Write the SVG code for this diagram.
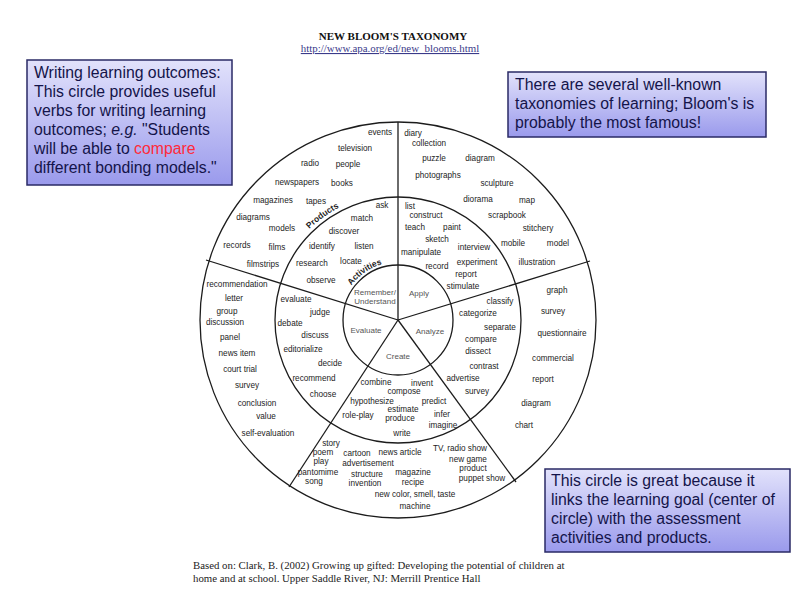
<svg xmlns="http://www.w3.org/2000/svg" width="800" height="600" viewBox="0 0 800 600">
<defs>
<linearGradient id="boxg" x1="0" y1="0" x2="0" y2="1">
<stop offset="0" stop-color="#e2e2fb"/>
<stop offset="1" stop-color="#9a9aec"/>
</linearGradient>
<path id="prodArc" d="M 271,320 A 127 127 0 0 1 525,320"/>
<path id="actArc" d="M 340,320 A 58 58 0 0 1 456,320"/>
</defs>
<style>
.w{font-family:"Liberation Sans",Arial,sans-serif;font-size:8.2px;fill:#1c1c1c;text-anchor:middle}
.c{font-family:"Liberation Sans",Arial,sans-serif;font-size:8px;fill:#555;text-anchor:middle}
.lbl{font-family:"Liberation Sans",Arial,sans-serif;font-size:8.5px;font-weight:bold;fill:#1c1c1c;text-anchor:middle}
.ln{stroke:#1c1c1c;stroke-width:1.3;fill:none}
.box{fill:url(#boxg);stroke:#2a2a66;stroke-width:1.5}
.bt{font-family:"Liberation Sans",Arial,sans-serif;font-size:15.8px;fill:#14144a}
.ser{font-family:"Liberation Serif","Times New Roman",serif}
</style>
<rect width="800" height="600" fill="#ffffff"/>

<g id="title">
<text class="ser" x="393" y="40" font-size="11" font-weight="bold" text-anchor="middle" fill="#111">NEW BLOOM'S TAXONOMY</text>
<text class="ser" x="390" y="52" font-size="10.9" text-anchor="middle" fill="#3a3a8a" text-decoration="underline">http://www.apa.org/ed/new_blooms.html</text>
</g>

<g id="connectors">
<circle class="ln" cx="398" cy="320" r="198"/>
<circle class="ln" cx="398" cy="320" r="123"/>
<circle class="ln" cx="398" cy="320" r="55"/>
<line class="ln" x1="398" y1="320" x2="398" y2="122"/>
<line class="ln" x1="398" y1="320" x2="206" y2="260"/>
<line class="ln" x1="398" y1="320" x2="590" y2="261"/>
<line class="ln" x1="398" y1="320" x2="516" y2="482"/>
<line class="ln" x1="398" y1="320" x2="289" y2="487"/>
</g>

<g id="ring-labels">
<text class="lbl"><textPath href="#prodArc" startOffset="119.7">Products</textPath></text>
<text class="lbl"><textPath href="#actArc" startOffset="55.7">Activities</textPath></text>
</g>

<g id="core">
<text class="c" x="375" y="295">Remember/</text>
<text class="c" x="375" y="304">Understand</text>
<text class="c" x="419" y="296">Apply</text>
<text class="c" x="366" y="333">Evaluate</text>
<text class="c" x="430" y="334">Analyze</text>
<text class="c" x="398" y="359">Create</text>
</g>

<g id="remember-sector">
<text class="w" x="380" y="135">events</text>
<text class="w" x="355" y="151">television</text>
<text class="w" x="310" y="166">radio</text>
<text class="w" x="348" y="167">people</text>
<text class="w" x="297" y="185">newspapers</text>
<text class="w" x="342" y="186">books</text>
<text class="w" x="273" y="203">magazines</text>
<text class="w" x="316" y="204">tapes</text>
<text class="w" x="253" y="220">diagrams</text>
<text class="w" x="282" y="231">models</text>
<text class="w" x="237" y="248">records</text>
<text class="w" x="277" y="250">films</text>
<text class="w" x="263" y="267">filmstrips</text>
<text class="w" x="382" y="208">ask</text>
<text class="w" x="362" y="221">match</text>
<text class="w" x="344" y="234">discover</text>
<text class="w" x="322" y="249">identify</text>
<text class="w" x="364" y="249">listen</text>
<text class="w" x="312" y="266">research</text>
<text class="w" x="351" y="264">locate</text>
<text class="w" x="321" y="283">observe</text>
</g>

<g id="apply-sector">
<text class="w" x="413" y="136">diary</text>
<text class="w" x="429" y="146">collection</text>
<text class="w" x="434" y="161">puzzle</text>
<text class="w" x="480" y="161">diagram</text>
<text class="w" x="438" y="178">photographs</text>
<text class="w" x="497" y="186">sculpture</text>
<text class="w" x="478" y="202">diorama</text>
<text class="w" x="527" y="203">map</text>
<text class="w" x="507" y="218">scrapbook</text>
<text class="w" x="538" y="231">stitchery</text>
<text class="w" x="513" y="246">mobile</text>
<text class="w" x="558" y="246">model</text>
<text class="w" x="537" y="265">illustration</text>
<text class="w" x="410" y="209">list</text>
<text class="w" x="426" y="218">construct</text>
<text class="w" x="415" y="230">teach</text>
<text class="w" x="452" y="230">paint</text>
<text class="w" x="437" y="242">sketch</text>
<text class="w" x="474" y="250">interview</text>
<text class="w" x="421" y="255">manipulate</text>
<text class="w" x="477" y="265">experiment</text>
<text class="w" x="437" y="269">record</text>
<text class="w" x="466" y="277">report</text>
<text class="w" x="463" y="289">stimulate</text>
</g>

<g id="analyze-sector">
<text class="w" x="557" y="293">graph</text>
<text class="w" x="553" y="314">survey</text>
<text class="w" x="562" y="336">questionnaire</text>
<text class="w" x="553" y="361">commercial</text>
<text class="w" x="543" y="382">report</text>
<text class="w" x="536" y="406">diagram</text>
<text class="w" x="524" y="428">chart</text>
<text class="w" x="500" y="304">classify</text>
<text class="w" x="478" y="316">categorize</text>
<text class="w" x="500" y="330">separate</text>
<text class="w" x="481" y="342">compare</text>
<text class="w" x="478" y="354">dissect</text>
<text class="w" x="484" y="369">contrast</text>
</g>

<g id="evaluate-sector">
<text class="w" x="237" y="287">recommendation</text>
<text class="w" x="234" y="301">letter</text>
<text class="w" x="227" y="314">group</text>
<text class="w" x="225" y="325">discussion</text>
<text class="w" x="230" y="340">panel</text>
<text class="w" x="237" y="356">news item</text>
<text class="w" x="240" y="372">court trial</text>
<text class="w" x="247" y="388">survey</text>
<text class="w" x="257" y="406">conclusion</text>
<text class="w" x="266" y="419">value</text>
<text class="w" x="268" y="436">self-evaluation</text>
<text class="w" x="296" y="302">evaluate</text>
<text class="w" x="320" y="315">judge</text>
<text class="w" x="290" y="326">debate</text>
<text class="w" x="315" y="338">discuss</text>
<text class="w" x="303" y="352">editorialize</text>
<text class="w" x="330" y="366">decide</text>
<text class="w" x="314" y="381">recommend</text>
<text class="w" x="323" y="397">choose</text>
</g>

<g id="create-sector">
<text class="w" x="376" y="385">combine</text>
<text class="w" x="422" y="386">invent</text>
<text class="w" x="404" y="394">compose</text>
<text class="w" x="463" y="381">advertise</text>
<text class="w" x="477" y="394">survey</text>
<text class="w" x="372" y="404">hypothesize</text>
<text class="w" x="434" y="404">predict</text>
<text class="w" x="358" y="418">role-play</text>
<text class="w" x="403" y="412">estimate</text>
<text class="w" x="400" y="421">produce</text>
<text class="w" x="442" y="417">infer</text>
<text class="w" x="443" y="428">imagine</text>
<text class="w" x="402" y="436">write</text>
<text class="w" x="331" y="446">story</text>
<text class="w" x="323" y="455">poem</text>
<text class="w" x="321" y="464">play</text>
<text class="w" x="318" y="475">pantomime</text>
<text class="w" x="314" y="484">song</text>
<text class="w" x="357" y="456">cartoon</text>
<text class="w" x="400" y="455">news article</text>
<text class="w" x="368" y="466">advertisement</text>
<text class="w" x="367" y="477">structure</text>
<text class="w" x="365" y="486">invention</text>
<text class="w" x="413" y="475">magazine</text>
<text class="w" x="413" y="485">recipe</text>
<text class="w" x="415" y="497">new color, smell, taste</text>
<text class="w" x="415" y="509">machine</text>
<text class="w" x="460" y="451">TV, radio show</text>
<text class="w" x="468" y="462">new game</text>
<text class="w" x="473" y="471">product</text>
<text class="w" x="482" y="481">puppet show</text>
</g>

<g id="callout-outcomes">
<rect class="box" x="27" y="60" width="205" height="125"/>
<text class="bt" x="34" y="78">Writing learning outcomes:</text>
<text class="bt" x="34" y="97">This circle provides useful</text>
<text class="bt" x="34" y="116">verbs for writing learning</text>
<text class="bt" x="34" y="135">outcomes; <tspan font-style="italic">e.g.</tspan> "Students</text>
<text class="bt" x="34" y="154">will be able to <tspan fill="#ff2a3a">compare</tspan></text>
<text class="bt" x="34" y="173">different bonding models."</text>
</g>

<g id="callout-taxonomies">
<rect class="box" x="508" y="72" width="258" height="65"/>
<text class="bt" x="515" y="90">There are several well-known</text>
<text class="bt" x="515" y="109">taxonomies of learning; Bloom's is</text>
<text class="bt" x="515" y="128">probably the most famous!</text>
</g>

<g id="callout-circle">
<rect class="box" x="545" y="469" width="245" height="83"/>
<text class="bt" x="551" y="486">This circle is great because it</text>
<text class="bt" x="551" y="505">links the learning goal (center of</text>
<text class="bt" x="551" y="524">circle) with the assessment</text>
<text class="bt" x="551" y="543">activities and products.</text>
</g>

<g id="citation">
<text class="ser" x="193" y="569" font-size="10.8" fill="#222">Based on: Clark, B. (2002) Growing up gifted: Developing the potential of children at</text>
<text class="ser" x="193" y="582" font-size="10.8" fill="#222">home and at school. Upper Saddle River, NJ: Merrill Prentice Hall</text>
</g>
</svg>
